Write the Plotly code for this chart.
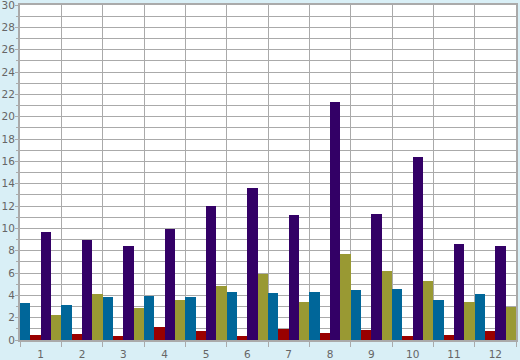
import plotly.graph_objects as go

categories = ["1", "2", "3", "4", "5", "6", "7", "8", "9", "10", "11", "12"]
series_blue = [3.3, 3.1, 3.85, 3.95, 3.85, 4.3, 4.2, 4.3, 4.5, 4.55, 3.55, 4.1]
series_red = [0.45, 0.55, 0.35, 1.15, 0.8, 0.35, 1.0, 0.62, 0.9, 0.35, 0.45, 0.8]
series_purple = [9.7, 8.95, 8.4, 9.95, 12.0, 13.6, 11.2, 21.3, 11.3, 16.4, 8.6, 8.4]
series_olive = [2.25, 4.1, 2.85, 3.55, 4.85, 5.95, 3.4, 7.7, 6.2, 5.3, 3.4, 3.0]

colors = ["#006699", "#990000", "#330066", "#999933"]
xs = list(range(1, len(categories) + 1))

fig = go.Figure()
for vals, c in zip([series_blue, series_red, series_purple, series_olive], colors):
    fig.add_trace(go.Bar(x=xs, y=vals, marker=dict(color=c, line=dict(width=0))))

grid = "#aaaaaa"
fig.update_layout(
    width=520, height=360,
    margin=dict(l=20, r=4, t=5, b=20),
    paper_bgcolor="#d9eff6",
    plot_bgcolor="#ffffff",
    barmode="group", bargap=0, bargroupgap=0,
    showlegend=False,
    font=dict(family="DejaVu Sans", size=10.5, color="#666666"),
    xaxis=dict(
        range=[0.5, 12.5], tickvals=xs, ticktext=categories, ticks="",
        showgrid=False, showline=True, linecolor=grid, linewidth=2, mirror=True,
        zeroline=False, ticklabelstandoff=3, automargin=False,
        minor=dict(tickvals=[i + 0.5 for i in range(0, 13)], ticks="outside",
                   ticklen=5, tickcolor=grid, showgrid=True, gridcolor=grid, gridwidth=1),
    ),
    yaxis=dict(
        range=[0, 30], dtick=2, ticks="outside", ticklen=3, tickcolor=grid,
        showgrid=True, gridcolor=grid, gridwidth=1, automargin=False,
        ticklabeloverflow="allow", ticklabelstandoff=-2,
        showline=True, linecolor=grid, linewidth=2, mirror=True, zeroline=False,
        minor=dict(dtick=1, ticks="outside", ticklen=2, tickcolor=grid,
                   showgrid=True, gridcolor=grid, gridwidth=1),
    ),
)
fig.write_html("out.html")
